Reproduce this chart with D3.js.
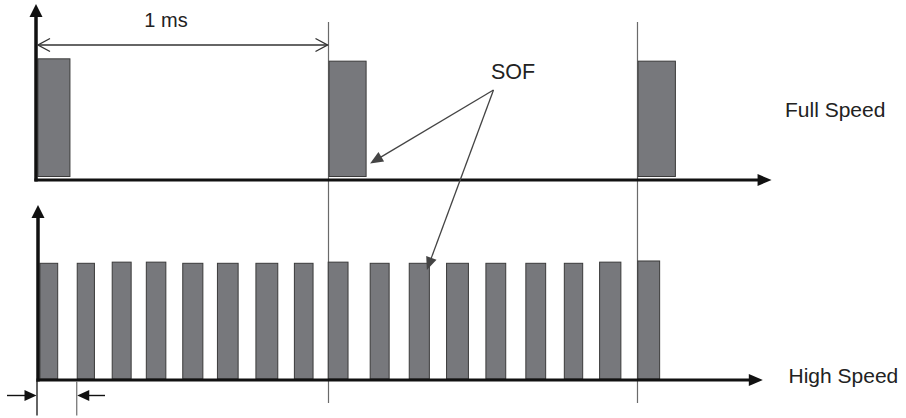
<!DOCTYPE html>
<html><head><meta charset="utf-8">
<script src="https://cdn.jsdelivr.net/npm/d3@7"></script>
<style>
body{margin:0;background:#fff}
svg{display:block}
text{font-family:"Liberation Sans",Arial,sans-serif;fill:#222}
</style>
</head><body>
<svg id="c" width="906" height="418"></svg>
<script>
// ---- data (time in ms, normalized signal level) ----
const fsStart = [0.003, 1.002, 2.062];
const fsEnd   = [0.113, 1.129, 2.190];
const fsLevel = [1.01, 0.99, 0.99];

const hsStart = [0.010, 0.138, 0.258, 0.375, 0.500, 0.619, 0.751, 0.883, 0.999,
                 1.143, 1.277, 1.405, 1.540, 1.677, 1.809, 1.930, 2.061];
const hsEnd   = [0.071, 0.197, 0.323, 0.442, 0.569, 0.690, 0.826, 0.947, 1.067,
                 1.208, 1.346, 1.480, 1.608, 1.745, 1.872, 2.003, 2.136];
const hsLevel = [1.0, 1.0, 1.01, 1.01, 1.0, 1.0, 1.0, 1.0, 1.01,
                 1.0, 1.0, 1.0, 1.0, 1.0, 1.0, 1.01, 1.02];

const frameLines = [1.0, 2.06];
const speedLabels = ["Full Speed", "High Speed"];
const spanLabel = "1 ms";
const sofLabel = "SOF";

// ---- layout ----
const svg = d3.select("#c");
const x = d3.scaleLinear().domain([0, 1]).range([37, 328.5]);
const yTop = d3.scaleLinear().domain([0, 1]).range([176.5, 60]);
const yBot = d3.scaleLinear().domain([0, 1]).range([379, 263.3]);
const topAxisY = 180, botAxisY = 380;

function tri(tip, dir, len, hw) {
  // dir: unit vector pointing toward tip
  const [tx, ty] = tip, [dx, dy] = dir;
  const bx = tx - dx * len, by = ty - dy * len;
  const px = -dy, py = dx;
  const p = d3.path();
  p.moveTo(tx, ty);
  p.lineTo(bx + px * hw, by + py * hw);
  p.lineTo(bx - px * hw, by - py * hw);
  p.closePath();
  return p.toString();
}
function unit(a, b) {
  const dx = b[0] - a[0], dy = b[1] - a[1], l = Math.hypot(dx, dy);
  return [dx / l, dy / l];
}

// frame boundary lines
svg.selectAll("line.frame").data(frameLines).join("line")
  .attr("class", "frame")
  .attr("x1", d => x(d)).attr("x2", d => x(d))
  .attr("y1", 22).attr("y2", 403)
  .attr("stroke", "#6a6a6a").attr("stroke-width", 1.2);

// full speed bars
const fsData = fsStart.map((s, i) => ({s, e: fsEnd[i], v: fsLevel[i]}));
svg.selectAll("rect.fs").data(fsData).join("rect")
  .attr("class", "fs")
  .attr("x", d => x(d.s)).attr("width", d => x(d.e) - x(d.s))
  .attr("y", d => yTop(d.v)).attr("height", d => yTop(0) - yTop(d.v))
  .attr("fill", "#77787c").attr("stroke", "#3a3a3a").attr("stroke-width", 1);

// high speed bars
const hsData = hsStart.map((s, i) => ({s, e: hsEnd[i], v: hsLevel[i]}));
svg.selectAll("rect.hs").data(hsData).join("rect")
  .attr("class", "hs")
  .attr("x", d => x(d.s)).attr("width", d => x(d.e) - x(d.s))
  .attr("y", d => yBot(d.v)).attr("height", d => yBot(0) - yBot(d.v))
  .attr("fill", "#77787c").attr("stroke", "#3a3a3a").attr("stroke-width", 1);

// axes
const axisColor = "#111";
// top
svg.append("line").attr("x1", 36).attr("x2", 36).attr("y1", topAxisY + 1.5).attr("y2", 14)
  .attr("stroke", axisColor).attr("stroke-width", 3.5);
svg.append("path").attr("d", tri([36, 4], [0, -1], 13, 6.5)).attr("fill", axisColor);
svg.append("line").attr("x1", 34.5).attr("x2", x(2.48)).attr("y1", topAxisY).attr("y2", topAxisY)
  .attr("stroke", axisColor).attr("stroke-width", 3.2);
svg.append("path").attr("d", tri([x(2.52), topAxisY], [1, 0], 14, 6)).attr("fill", axisColor);
// bottom
svg.append("line").attr("x1", 38).attr("x2", 38).attr("y1", botAxisY + 1.5).attr("y2", 214)
  .attr("stroke", axisColor).attr("stroke-width", 3.5);
svg.append("path").attr("d", tri([38, 205], [0, -1], 13, 6.5)).attr("fill", axisColor);
svg.append("line").attr("x1", 36.5).attr("x2", x(2.45)).attr("y1", botAxisY).attr("y2", botAxisY)
  .attr("stroke", axisColor).attr("stroke-width", 3.2);
svg.append("path").attr("d", tri([x(2.49), botAxisY], [1, 0], 14, 6)).attr("fill", axisColor);

// 1 ms dimension arrow
const dimY = 45, dimC = "#333";
svg.append("line").attr("x1", x(0) + 1).attr("x2", x(1) - 1).attr("y1", dimY).attr("y2", dimY)
  .attr("stroke", dimC).attr("stroke-width", 1.4);
[[x(0) + 1, 1], [x(1) - 1, -1]].forEach(([px, s]) => {
  svg.append("path")
    .attr("d", `M${px + s * 12},${dimY - 6.5}L${px},${dimY}L${px + s * 12},${dimY + 6.5}`)
    .attr("fill", "none").attr("stroke", dimC).attr("stroke-width", 1.4);
});
svg.append("text").attr("x", 166).attr("y", 26.5).attr("text-anchor", "middle")
  .attr("font-size", 20).text(spanLabel);

// SOF label and pointers
svg.append("text").attr("x", 491).attr("y", 79).attr("font-size", 21.5).text(sofLabel);
const sofOrigin = [493.5, 90];
const tips = [
  [x(fsEnd[1]) + 4, 163.5],
  [x(hsEnd[10]) - 2.5, 270]
];
tips.forEach(t => {
  const u = unit(sofOrigin, t);
  svg.append("line").attr("x1", sofOrigin[0]).attr("y1", sofOrigin[1])
    .attr("x2", t[0] - u[0] * 10).attr("y2", t[1] - u[1] * 10)
    .attr("stroke", "#444").attr("stroke-width", 1.3);
  svg.append("path").attr("d", tri(t, u, 13, 5.5)).attr("fill", "#444");
});

// speed labels
svg.append("text").attr("x", 785).attr("y", 116.5).attr("font-size", 21).text(speedLabels[0]);
svg.append("text").attr("x", 788.5).attr("y", 383).attr("font-size", 21).text(speedLabels[1]);

// microframe width dimension (bottom-left)
const mfY = 395.5;
svg.append("line").attr("x1", x(0)).attr("x2", x(0)).attr("y1", 381).attr("y2", 415.5)
  .attr("stroke", "#111").attr("stroke-width", 1.3);
svg.append("line").attr("x1", x(hsStart[1]) - 0.5).attr("x2", x(hsStart[1]) - 0.5).attr("y1", 381).attr("y2", 415.5)
  .attr("stroke", "#777").attr("stroke-width", 1.3);
svg.append("line").attr("x1", 7).attr("x2", x(0) - 8).attr("y1", mfY).attr("y2", mfY)
  .attr("stroke", "#111").attr("stroke-width", 1.4);
svg.append("path").attr("d", tri([x(0) - 0.5, mfY], [1, 0], 12, 5.5)).attr("fill", "#111");
svg.append("line").attr("x1", 105).attr("x2", x(hsStart[1]) + 8).attr("y1", mfY).attr("y2", mfY)
  .attr("stroke", "#111").attr("stroke-width", 1.4);
svg.append("path").attr("d", tri([x(hsStart[1]), mfY], [-1, 0], 12, 5.5)).attr("fill", "#111");
</script>
</body></html>
